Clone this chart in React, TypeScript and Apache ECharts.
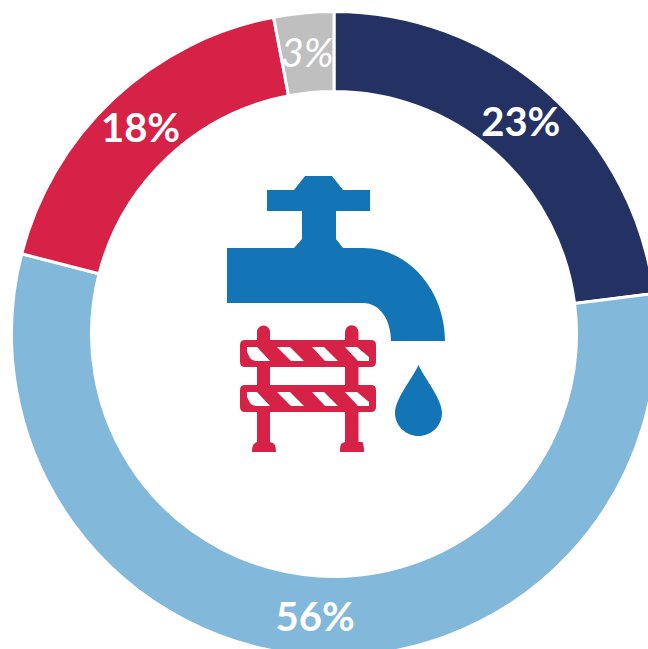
import React, { useEffect, useRef } from "react";
import * as echarts from "echarts";

const categories = ["A", "B", "C", "D"];
const values = [23, 56, 18, 3];
const sliceColors = ["#243263", "#82B8D9", "#D62246", "#BFBFBF"];
const labelNudges = [[-2, 1], [-1, -3], [2, 1], [0, 2]];

const FAUCET =
  "M305 176 L332 176 L343 190 L370 190 L370 211 L336 211 L336 239 L343 248 L363 248 C409 248 445 291 445 341 L391 341 C391 320 380 303 363 303 L227 303 L227 248 L294 248 L302 239 L302 211 L267 211 L267 190 L294 190 Z";
const DROP =
  "M418.5 365 C425 379 442 399 442 413 C442 426 431 436 418.5 436 C406 436 395 426 395 413 C395 399 412 379 418.5 365 Z";
const BARRIER =
  "M257 332 A6.5 6.5 0 0 1 270 332 L270 340 L345 340 L345 332 A6.5 6.5 0 0 1 358.5 332 L358.5 340 L371 340 Q376 340 376 345 L376 362 Q376 367 371 367 L358.5 367 L358.5 385 L371 385 Q376 385 376 390 L376 407 Q376 412 371 412 L358.5 412 L358.5 442 L362 442 Q364 443 363 444 Q364 446 364 452 L340 452 Q340 446 341 444 Q342 443 345 442 L345 412 L270 412 L270 442 Q274 443 275 445 Q276 448 276 452 L252 452 Q252 447 253 445 Q254 443 257 442 L257 412 L245 412 Q240 412 240 407 L240 390 Q240 385 245 385 L257 385 L257 367 L245 367 Q240 367 240 362 L240 345 Q240 340 245 340 L257 340 Z M270 367 L270 385 L345 385 L345 367 Z";
const STRIPES =
  "M247 347 L257 347 L270 361 L257 361 Q252 361 250 358 L247 352 Z M277 347 L290 347 L304 361 L291 361 Z M312 347 L324 347 L338 361 L325 361 Z M345 347 L357 347 L369 357 L369 361 L358 361 Z " +
  "M247 392 L257 392 L270 406 L257 406 Q252 406 250 403 L247 397 Z M277 392 L290 392 L304 406 L291 406 Z M312 392 L324 392 L338 406 L325 406 Z M345 392 L357 392 L369 402 L369 406 L358 406 Z";

echarts.graphic.registerShape("faucet", echarts.graphic.extendPath(FAUCET, {}));
echarts.graphic.registerShape("drop", echarts.graphic.extendPath(DROP, {}));
echarts.graphic.registerShape("barrier", echarts.graphic.extendPath(BARRIER, {}));
echarts.graphic.registerShape("stripes", echarts.graphic.extendPath(STRIPES, {}));

export default function App() {
  const ref = useRef<HTMLDivElement>(null);
  useEffect(() => {
    const chart = echarts.init(ref.current!, undefined, { renderer: "svg" });
    chart.setOption({
      animation: false,
      backgroundColor: "#fff",
      series: [
        {
          type: "pie",
          center: [334, 334],
          radius: [242.5, 322.5],
          startAngle: 90,
          clockwise: true,
          avoidLabelOverlap: false,
          silent: true,
          labelLine: { show: false },
          itemStyle: { borderColor: "#fff", borderWidth: 3 },
          data: categories.map((name, i) => ({
            name,
            value: values[i],
            itemStyle: { color: sliceColors[i] },
            label: {
              offset: labelNudges[i],
              fontStyle: i === 3 ? "italic" : "normal",
              fontWeight: i === 3 ? "normal" : "bold",
            },
          })),
          label: {
            show: true,
            position: "inside",
            formatter: (p: any) => `${p.value}%`,
            color: "#fff",
            fontFamily: "Lato",
            fontSize: 40,
          },
        },
      ],
      graphic: [
        { type: "faucet", x: 0, y: 0, style: { fill: "#1375B5" } },
        { type: "drop", x: 0, y: 0, style: { fill: "#1375B5" } },
        { type: "barrier", x: 0, y: 0, style: { fill: "#D62246" } },
        { type: "stripes", x: 0, y: 0, style: { fill: "#fff" } },
      ],
    });
    return () => chart.dispose();
  }, []);
  return (
    <div
      ref={ref}
      style={{ position: "absolute", left: 0, top: 0, width: 648, height: 649, overflow: "hidden" }}
    />
  );
}
